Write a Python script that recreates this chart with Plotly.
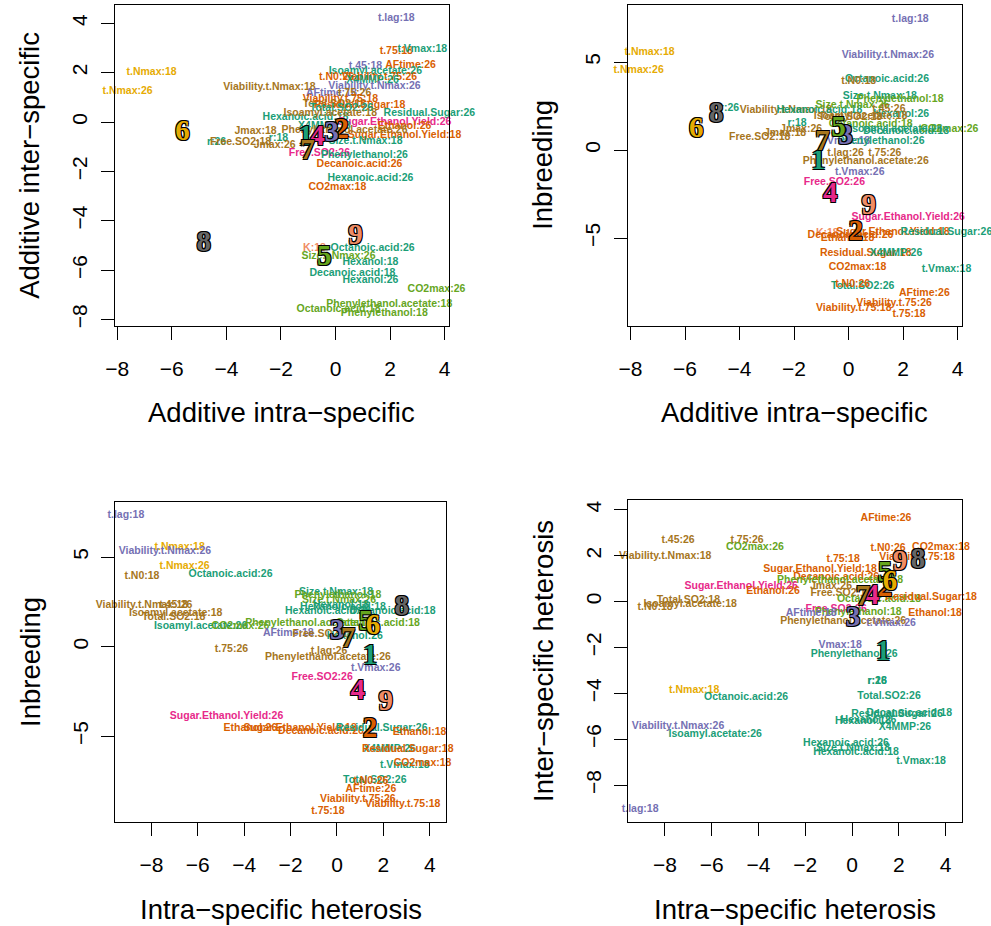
import plotly.graph_objects as go

W, H = 991, 926

group_colors = {1: "#1B9E77", 2: "#D95F02", 3: "#7570B3", 4: "#E7298A", 5: "#66A61E",
                6: "#E6AB02", 7: "#A6761D", 8: "#666666", 9: "#F08C64"}

label_group = {
    "Isoamyl.acetate:26": 1, "X4MMP:26": 1, "X4MMP:18": 1, "Total.SO2:26": 1, "Residual.Sugar:26": 1,
    "Hexanoic.acid:18": 1, "Hexanoic.acid:26": 1, "r:18": 1, "r:26": 1, "Size.t.Nmax:18": 1,
    "Phenylethanol:26": 1, "Octanoic.acid:26": 1, "Hexanol:18": 1, "Hexanol:26": 1,
    "Decanoic.acid:18": 1, "t.Vmax:18": 1,
    "t.75:18": 2, "AFtime:26": 2, "t.N0:26": 2, "Viability.t.75:26": 2, "Viability.t.75:18": 2,
    "Sugar.Ethanol.Yield:18": 2, "Ethanol:26": 2, "Ethanol:18": 2, "Decanoic.acid:26": 2,
    "CO2max:18": 2, "Residual.Sugar:18": 2,
    "t.lag:18": 3, "t.45:18": 3, "Viability.t.Nmax:26": 3, "AFtime:18": 3, "Vmax:18": 3, "t.Vmax:26": 3,
    "Sugar.Ethanol.Yield:26": 4, "Free.SO2:26": 4,
    "Size.t.Nmax:26": 5, "CO2max:26": 5, "Phenylethanol.acetate:18": 5, "Octanoic.acid:18": 5,
    "Phenylethanol:18": 5,
    "t.Nmax:18": 6, "t.Nmax:26": 6,
    "Viability.t.Nmax:18": 7, "Jmax:18": 7, "Jmax:26": 7, "Free.SO2:18": 7,
    "Phenylethanol.acetate:26": 7, "t.N0:18": 7, "t.45:26": 7, "t.75:26": 7, "t.lag:26": 7,
    "Isoamyl.acetate:18": 7, "Total.SO2:18": 7,
    "K:18": 9,
}

cluster_ids = [1, 2, 3, 4, 5, 6, 7, 8, 9]

# ---------- Panel 1: Additive intra-specific vs Additive inter-specific ----------
p1_labels = ["t.lag:18", "t.75:18", "t.Vmax:18", "AFtime:26", "t.45:18", "Isoamyl.acetate:26",
             "t.N0:26", "Viability.t.75:26", "X4MMP:26", "Viability.t.Nmax:18", "Viability.t.Nmax:26",
             "AFtime:18", "t.75:26", "Viability.t.75:18", "Total.SO2:18", "Residual.Sugar:18",
             "Total.SO2:26", "Residual.Sugar:26", "Hexanoic.acid:18", "Isoamyl.acetate:18",
             "Sugar.Ethanol.Yield:26", "Ethanol:26", "X4MMP:18", "Sugar.Ethanol.Yield:18", "Jmax:18",
             "Phenylethanol.acetate:26", "r:18", "Jmax:26", "r:26", "Free.SO2:18", "Size.t.Nmax:18",
             "Free.SO2:26", "Phenylethanol:26", "Decanoic.acid:26", "Hexanoic.acid:26", "CO2max:18",
             "t.Nmax:18", "t.Nmax:26", "K:18", "Octanoic.acid:26", "Size.t.Nmax:26", "Hexanol:18",
             "Decanoic.acid:18", "Hexanol:26", "CO2max:26", "Phenylethanol.acetate:18",
             "Octanoic.acid:18", "Phenylethanol:18"]
p1_x = [2.23, 2.23, 3.18, 2.75, 1.10, 1.46, 0.04, 1.61, 1.36, -2.42, 1.43, -0.15, 0.70, 0.18, -0.04, 0.88,
        0.22, 3.44, -1.10, -0.19, 2.17, 2.53, -0.41, 2.53, -2.93, 0.33, -2.09, -2.23, -4.36, -3.48, 1.10,
        -0.59, 1.06, 0.88, 1.28, 0.07, -6.74, -7.62, -0.77, 1.36, 0.11, 1.28, 0.62, 1.28, 3.70, 1.97,
        0.11, 1.79]
p1_y = [4.19, 2.85, 2.93, 2.28, 2.24, 2.07, 1.79, 1.79, 1.67, 1.42, 1.46, 1.18, 1.18, 0.93, 0.72, 0.69,
        0.57, 0.37, 0.20, 0.37, 0.00, -0.16, -0.16, -0.53, -0.37, -0.33, -0.65, -0.93, -0.81, -0.81, -0.77,
        -1.26, -1.34, -1.71, -2.28, -2.64, 2.03, 1.26, -5.12, -5.12, -5.45, -5.69, -6.14, -6.42, -6.79,
        -7.40, -7.60, -7.76]
p1_cx = [-1.10, 0.22, -0.15, -0.66, -0.41, -5.61, -1.03, -4.83, 0.73]
p1_cy = [-0.65, -0.37, -0.49, -0.65, -5.49, -0.45, -1.22, -4.92, -4.63]

# ---------- Panel 2: Additive intra-specific vs Inbreeding ----------
p2_labels = ["t.Nmax:18", "t.Nmax:26", "r:26", "Viability.t.Nmax:18", "Hexanoic.acid:18", "Free.SO2:18",
             "r:18", "Jmax:26", "Jmax:18", "t.lag:18", "Viability.t.Nmax:26", "Octanoic.acid:26",
             "t.N0:18", "Size.t.Nmax:18", "Phenylethanol:18", "Size.t.Nmax:26", "t.45:26", "Hexanol:26",
             "Isoamyl.acetate:18", "Total.SO2:18", "Octanoic.acid:18", "Isoamyl.acetate:26", "CO2max:26",
             "Decanoic.acid:18", "Vmax:18", "Phenylethanol:26", "t.lag:26", "t.75:26",
             "Phenylethanol.acetate:26", "t.Vmax:26", "Free.SO2:26", "Sugar.Ethanol.Yield:26", "K:18",
             "Ethanol:18", "Decanoic.acid:26", "Sugar.Ethanol.Yield:18", "Residual.Sugar:26",
             "Residual.Sugar:18", "X4MMP:26", "CO2max:18", "t.Vmax:18", "Total.SO2:26", "t.N0:26",
             "AFtime:26", "Viability.t.75:26", "Viability.t.75:18", "t.75:18"]
p2_x = [-7.30, -7.70, -4.37, -2.30, -1.07, -3.26, -1.89, -1.74, -2.33, 2.26, 1.44, 1.41, 0.37, 1.15, 1.89,
        0.15, 1.48, 1.93, 0.44, 0.07, 0.81, 1.74, 3.70, 2.11, 0.00, 1.19, -0.11, 1.33, 0.63, 0.41, -0.52,
        2.19, -0.78, -0.04, 0.07, 1.63, 3.59, 0.63, 1.74, 0.33, 3.59, 0.52, 0.15, 2.78, 1.67, 0.19, 2.22]
p2_y = [5.57, 4.55, 2.39, 2.27, 2.27, 0.74, 1.53, 1.19, 0.97, 7.44, 5.40, 4.03, 3.92, 3.07, 2.90, 2.56,
        2.33, 2.05, 1.93, 1.88, 1.48, 1.19, 1.19, 1.08, 0.51, 0.51, -0.17, -0.17, -0.63, -1.25, -1.82,
        -3.81, -4.72, -5.00, -4.83, -4.66, -4.66, -5.85, -5.85, -6.65, -6.76, -7.73, -7.61, -8.13, -8.69,
        -8.98, -9.32]
p2_cx = [-1.11, 0.26, -0.11, -0.67, -0.37, -5.59, -0.96, -4.85, 0.74]
p2_cy = [-0.68, -4.72, 0.74, -2.56, 1.19, 1.14, 0.40, 1.99, -3.24]

# ---------- Panel 3: Intra-specific heterosis vs Inbreeding ----------
p3_labels = ["t.lag:18", "t.Nmax:18", "Viability.t.Nmax:26", "t.Nmax:26", "t.N0:18", "Octanoic.acid:26",
             "Viability.t.Nmax:18", "t.45:26", "Isoamyl.acetate:18", "Total.SO2:18", "Isoamyl.acetate:26",
             "CO2max:26", "t.75:26", "Phenylethanol.acetate:26", "Size.t.Nmax:18", "Phenylethanol:18",
             "Size.t.Nmax:26", "Hexanol:18", "Hexanoic.acid:18", "Hexanoic.acid:26", "Decanoic.acid:18",
             "Octanoic.acid:18", "Phenylethanol.acetate:18", "AFtime:18", "Free.SO2:18", "Hexanol:26",
             "t.lag:26", "t.Vmax:26", "Free.SO2:26", "Sugar.Ethanol.Yield:26", "Ethanol:26",
             "Sugar.Ethanol.Yield:18", "Decanoic.acid:26", "Residual.Sugar:26", "Ethanol:18", "X4MMP:26",
             "Residual.Sugar:18", "t.Vmax:18", "CO2max:18", "Total.SO2:26", "t.N0:26", "AFtime:26",
             "Viability.t.75:26", "Viability.t.75:18", "t.75:18"]
p3_x = [-9.10, -6.78, -7.42, -6.57, -8.41, -4.59, -8.41, -6.95, -6.95, -7.04, -5.88, -4.16, -4.55, -0.39,
        -0.04, 0.04, 0.09, 0.17, 0.26, -0.39, 2.40, 1.76, -1.24, -2.10, -0.60, 0.77, -0.34, 1.67, -0.64,
        -4.76, -3.73, -1.59, -0.69, 1.93, 3.56, 2.27, 3.05, 2.92, 3.69, 1.63, 1.46, 1.46, 0.90, 2.83, -0.39]
p3_y = [7.31, 5.57, 5.34, 4.51, 3.90, 4.06, 2.28, 2.28, 1.88, 1.65, 1.16, 1.16, -0.13, -0.58, 3.06, 2.89,
        2.61, 2.33, 2.17, 2.00, 2.00, 1.32, 1.32, 0.77, 0.66, 0.59, -0.24, -1.19, -1.74, -3.87, -4.54,
        -4.54, -4.71, -4.54, -4.77, -5.71, -5.71, -6.61, -6.49, -7.45, -7.50, -7.95, -8.51, -8.79, -9.17]
p3_cx = [1.42, 1.42, 0.00, 0.90, 1.24, 1.55, 0.47, 2.79, 2.10]
p3_cy = [-0.58, -4.65, 0.82, -2.53, 1.32, 1.10, 0.38, 2.16, -3.15]

# ---------- Panel 4: Intra-specific heterosis vs Inter-specific heterosis ----------
p4_labels = ["AFtime:26", "t.45:26", "t.75:26", "CO2max:26", "Viability.t.Nmax:18", "t.N0:26", "CO2max:18",
             "Viability.t.75:18", "t.75:18", "Sugar.Ethanol.Yield:18", "Decanoic.acid:26",
             "Phenylethanol.acetate:18", "Sugar.Ethanol.Yield:26", "Ethanol:26", "Jmax:26", "Free.SO2:18",
             "Octanoic.acid:18", "Residual.Sugar:18", "Total.SO2:18", "Isoamyl.acetate:18", "t.N0:18",
             "Free.SO2:26", "Phenylethanol:18", "AFtime:18", "Ethanol:18", "Phenylethanol.acetate:26",
             "t.Vmax:26", "Vmax:18", "Phenylethanol:26", "r:18", "r:26", "Total.SO2:26", "t.Nmax:18",
             "Octanoic.acid:26", "Decanoic.acid:18", "Residual.Sugar:26", "Hexanol:18", "Hexanol:26",
             "X4MMP:26", "Viability.t.Nmax:26", "Isoamyl.acetate:26", "Hexanoic.acid:26", "Size.t.Nmax:18",
             "Hexanoic.acid:18", "t.Vmax:18", "t.lag:18"]
p4_x = [1.45, -7.44, -4.49, -4.15, -7.99, 1.54, 3.80, 2.78, -0.38, -1.37, -0.68, -0.51, -4.74, -3.38,
        -0.90, -0.47, 1.15, 3.38, -7.00, -6.92, -8.42, -0.68, 0.26, -1.75, 3.55, -0.38, 1.67, -0.51, 0.09,
        1.07, 1.07, 1.58, -6.75, -4.53, 2.44, 1.92, 0.47, 0.70, 2.26, -7.44, -5.85, -0.26, 0.04, 0.17, 2.95,
        -9.06]
p4_y = [3.65, 2.65, 2.65, 2.35, 1.96, 2.30, 2.35, 1.91, 1.83, 1.39, 1.04, 0.91, 0.65, 0.43, 0.65, 0.35,
        0.09, 0.17, 0.04, -0.13, -0.26, -0.35, -0.48, -0.52, -0.52, -0.87, -0.96, -1.91, -2.30, -3.48,
        -3.48, -4.13, -3.87, -4.17, -4.87, -4.91, -5.22, -5.20, -5.48, -5.43, -5.78, -6.17, -6.39, -6.57,
        -6.96, -9.04]
p4_cx = [1.32, 1.41, 0.04, 0.85, 1.41, 1.62, 0.47, 2.82, 2.05]
p4_cy = [-2.22, 0.57, -0.74, 0.22, 1.22, 0.83, 0.17, 1.78, 1.70]

x_titles = ["Additive intra\u2212specific", "Additive intra\u2212specific",
            "Intra\u2212specific heterosis", "Intra\u2212specific heterosis"]
y_titles = ["Additive inter\u2212specific", "Inbreeding", "Inbreeding", "Inter\u2212specific heterosis"]

# panel frames in pixels: (left, right, top, bottom)
frames = [(114.5, 449, 5, 325.7), (627.5, 961.7, 5, 325.7), (115, 446, 502, 822), (628, 962, 500, 822)]
x_ranges = [(-8.10, 4.16), (-8.11, 4.15), (-9.57, 4.70), (-9.58, 4.70)]
y_ranges = [(-8.25, 4.74), (-9.98, 8.24), (-9.79, 8.08), (-9.61, 4.43)]
x_ticks = [[-8, -6, -4, -2, 0, 2, 4]] * 4
y_ticks = [[-8, -6, -4, -2, 0, 2, 4], [-5, 0, 5], [-5, 0, 5], [-8, -6, -4, -2, 0, 2, 4]]

panels = [(p1_labels, p1_x, p1_y, p1_cx, p1_cy), (p2_labels, p2_x, p2_y, p2_cx, p2_cy),
          (p3_labels, p3_x, p3_y, p3_cx, p3_cy), (p4_labels, p4_x, p4_y, p4_cx, p4_cy)]

outline = "-1px -1px 0 #000, 1px -1px 0 #000, -1px 1px 0 #000, 1px 1px 0 #000"


def px(v):
    return v / W


def py(v):
    return 1 - v / H


fig = go.Figure()
layout = dict(width=W, height=H, margin=dict(l=0, r=0, t=0, b=0), showlegend=False,
              plot_bgcolor="white", paper_bgcolor="white", annotations=[])

for i, (labs, xs, ys, cx, cy) in enumerate(panels):
    k = "" if i == 0 else str(i + 1)
    xa, ya = "x" + k, "y" + k
    fig.add_trace(go.Scatter(
        x=xs, y=ys, text=labs, mode="text", xaxis=xa, yaxis=ya, cliponaxis=False,
        textfont=dict(family="Liberation Sans", size=10.5, weight="bold",
                      color=[group_colors[label_group[l]] for l in labs]),
        hoverinfo="text"))
    fig.add_trace(go.Scatter(
        x=cx, y=cy, text=[str(c) for c in cluster_ids], mode="text", xaxis=xa, yaxis=ya, cliponaxis=False,
        textfont=dict(family="Liberation Serif", size=29, weight="bold",
                      color=[group_colors[c] for c in cluster_ids], shadow=outline),
        hoverinfo="text"))
    l, r, t, b = frames[i]
    axis_common = dict(showline=True, mirror=True, linecolor="black", linewidth=1, ticks="outside",
                       ticklen=13, tickcolor="black", showgrid=False, zeroline=False, automargin=False,
                       tickfont=dict(family="Liberation Sans", size=21, color="black"))
    layout["xaxis" + k] = dict(domain=[px(l), px(r)], range=list(x_ranges[i]), tickvals=x_ticks[i],
                               anchor=ya, ticklabelstandoff=11, **axis_common)
    layout["yaxis" + k] = dict(domain=[py(b), py(t)], range=list(y_ranges[i]), tickvals=y_ticks[i],
                               anchor=xa, tickangle=-90, ticklabelstandoff=5, **axis_common)
    layout["annotations"].append(dict(
        text=x_titles[i], xref="paper", yref="paper", x=px((l + r) / 2), y=py(b + 87),
        showarrow=False, font=dict(family="Liberation Sans", size=27.5, color="black"),
        xanchor="center", yanchor="middle"))
    layout["annotations"].append(dict(
        text=y_titles[i], xref="paper", yref="paper", x=px(l - 85), y=py((t + b) / 2),
        showarrow=False, textangle=-90, font=dict(family="Liberation Sans", size=27.5, color="black"),
        xanchor="center", yanchor="middle"))

fig.update_layout(**layout)
fig.write_html("out.html", config={"displayModeBar": False},
               post_script="document.body.style.margin='0px';")
